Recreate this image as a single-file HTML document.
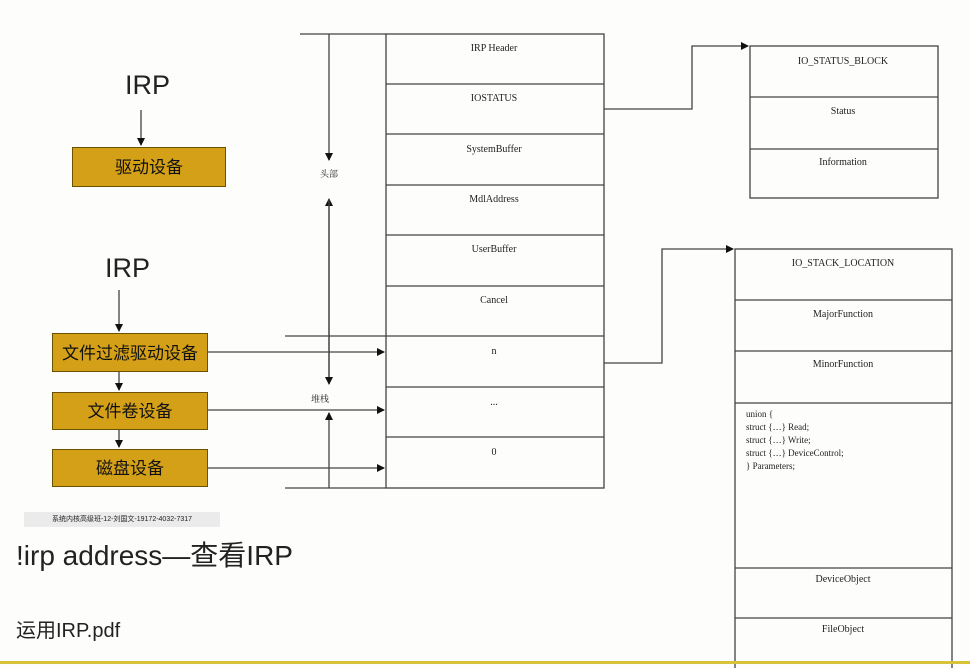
<!DOCTYPE html>
<html><head><meta charset="utf-8"><style>
body{margin:0;width:970px;height:668px;background:#fdfdfb;overflow:hidden;position:relative;font-family:"Liberation Serif","Noto Serif CJK SC",serif}
.t{position:absolute;font-family:"Liberation Sans","Noto Sans CJK SC",sans-serif;color:#222}
.b{position:absolute;background:#d4a017;border:1px solid #6b5200;font-family:"Liberation Sans","Noto Sans CJK SC",sans-serif;font-size:17px;text-align:center;color:#111;box-sizing:border-box}
</style></head><body>
<svg width="970" height="668" style="position:absolute;left:0;top:0" font-family="Liberation Serif, Noto Serif CJK SC, serif" font-size="10" fill="#222">
<defs><marker id="a" markerWidth="8" markerHeight="8" refX="7" refY="4" orient="auto" markerUnits="userSpaceOnUse"><path d="M0,0L8,4L0,8z" fill="#111"/></marker></defs>
<g stroke="#444" stroke-width="1.3" fill="none">
<rect x="386" y="34" width="218" height="454"/>
<line x1="386" y1="84" x2="604" y2="84"/><line x1="386" y1="134" x2="604" y2="134"/><line x1="386" y1="185" x2="604" y2="185"/><line x1="386" y1="235" x2="604" y2="235"/><line x1="386" y1="286" x2="604" y2="286"/><line x1="386" y1="336" x2="604" y2="336"/><line x1="386" y1="387" x2="604" y2="387"/><line x1="386" y1="437" x2="604" y2="437"/>
<line x1="300" y1="34" x2="386" y2="34"/><line x1="285" y1="488" x2="386" y2="488"/><line x1="285" y1="336" x2="386" y2="336"/>
<line x1="329" y1="34" x2="329" y2="160" marker-end="url(#a)"/>
<line x1="329" y1="380" x2="329" y2="199" marker-end="url(#a)"/>
<line x1="329" y1="199" x2="329" y2="384" marker-end="url(#a)"/>
<line x1="329" y1="488" x2="329" y2="413" marker-end="url(#a)"/>
<line x1="208" y1="352" x2="384" y2="352" marker-end="url(#a)"/>
<line x1="208" y1="410" x2="384" y2="410" marker-end="url(#a)"/>
<line x1="208" y1="468" x2="384" y2="468" marker-end="url(#a)"/>
<rect x="750" y="46" width="188" height="152"/><line x1="750" y1="97" x2="938" y2="97"/><line x1="750" y1="149" x2="938" y2="149"/>
<polyline points="604,109 692,109 692,46 748,46" marker-end="url(#a)"/>
<rect x="735" y="249" width="217" height="430"/><line x1="735" y1="300" x2="952" y2="300"/><line x1="735" y1="351" x2="952" y2="351"/><line x1="735" y1="403" x2="952" y2="403"/><line x1="735" y1="568" x2="952" y2="568"/><line x1="735" y1="618" x2="952" y2="618"/>
<polyline points="604,363 662,363 662,249 733,249" marker-end="url(#a)"/>
<line x1="141" y1="110" x2="141" y2="145" marker-end="url(#a)"/>
<line x1="119" y1="290" x2="119" y2="331" marker-end="url(#a)"/>
<line x1="119" y1="372" x2="119" y2="390" marker-end="url(#a)"/>
<line x1="119" y1="430" x2="119" y2="447" marker-end="url(#a)"/>
</g>
<g text-anchor="middle" stroke="none">
<text x="494" y="51">IRP Header</text><text x="494" y="101">IOSTATUS</text><text x="494" y="152">SystemBuffer</text><text x="494" y="202">MdlAddress</text><text x="494" y="252">UserBuffer</text><text x="494" y="303">Cancel</text><text x="494" y="354">n</text><text x="494" y="405">...</text><text x="494" y="455">0</text>
<text x="843" y="64">IO_STATUS_BLOCK</text><text x="843" y="114">Status</text><text x="843" y="165">Information</text>
<text x="843" y="266">IO_STACK_LOCATION</text><text x="843" y="317">MajorFunction</text><text x="843" y="367">MinorFunction</text><text x="843" y="582">DeviceObject</text><text x="843" y="632">FileObject</text>
<text x="329" y="177" font-size="9">头部</text><text x="320" y="402" font-size="9">堆栈</text>
</g>
<g font-size="9"><text x="746" y="417">union {</text><text x="746" y="430">struct {…} Read;</text><text x="746" y="443">struct {…} Write;</text><text x="746" y="456">struct {…} DeviceControl;</text><text x="746" y="469">} Parameters;</text></g>
<rect x="0" y="661" width="970" height="3" fill="#d8c23a"/>
</svg>
<div class="t" style="left:125px;top:70px;font-size:27px">IRP</div>
<div class="b" style="left:72px;top:147px;width:154px;height:40px;line-height:40px">驱动设备</div>
<div class="t" style="left:105px;top:253px;font-size:27px">IRP</div>
<div class="b" style="left:52px;top:333px;width:156px;height:39px;line-height:39px">文件过滤驱动设备</div>
<div class="b" style="left:52px;top:392px;width:156px;height:38px;line-height:38px">文件卷设备</div>
<div class="b" style="left:52px;top:449px;width:156px;height:38px;line-height:38px">磁盘设备</div>
<div class="t" style="left:24px;top:512px;width:196px;height:15px;background:#ebebeb;font-size:7px;line-height:15px;text-align:center">系统内核高级班-12-刘国文-19172-4032-7317</div>
<div class="t" style="left:16px;top:534px;font-size:28px">!irp address—查看IRP</div>
<div class="t" style="left:16px;top:614px;font-size:20px">运用IRP.pdf</div>
</body></html>
